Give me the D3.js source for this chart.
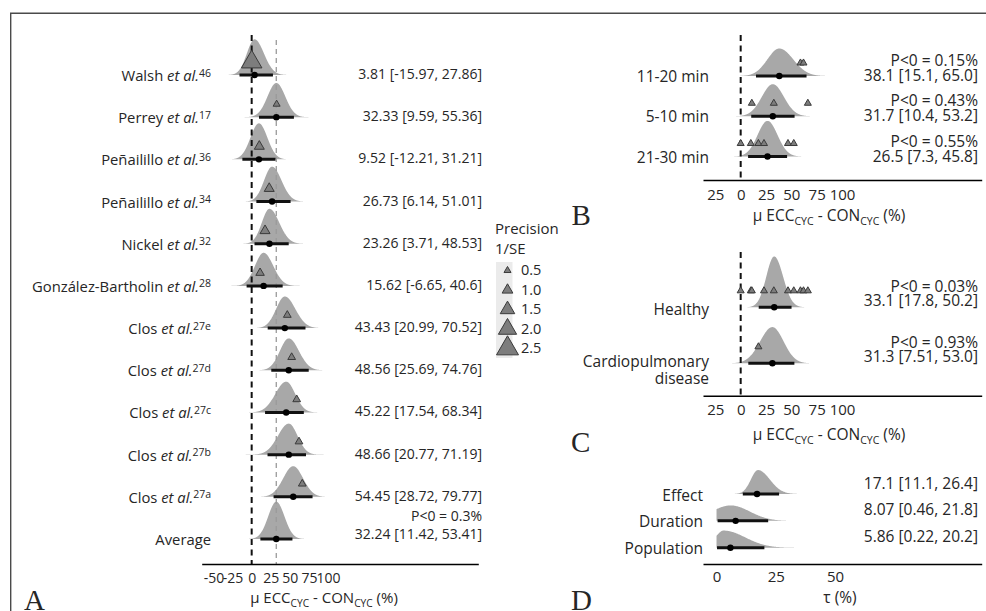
<!DOCTYPE html>
<html><head><meta charset="utf-8">
<script src="https://cdn.jsdelivr.net/npm/d3@7"></script>
<style>
body{margin:0;background:#fff}
text{font-family:"Open Sans",sans-serif;fill:#262626}
</style>
</head><body>
<svg id="c" width="986" height="611"></svg>
<script>
// ---------------- DATA ----------------
// Panel A: individual studies
const studyNames = ["Walsh","Perrey","Peñailillo","Peñailillo","Nickel","González-Bartholin","Clos","Clos","Clos","Clos","Clos","Average"];
const studyRefs = ["46","17","36","34","32","28","27e","27d","27c","27b","27a",""];
const studyMean = [3.81,32.33,9.52,26.73,23.26,15.62,43.43,48.56,45.22,48.66,54.45,32.24];
const studyLow  = [-15.97,9.59,-12.21,6.14,3.71,-6.65,20.99,25.69,17.54,20.77,28.72,11.42];
const studyHigh = [27.86,55.36,31.21,51.01,48.53,40.6,70.52,74.76,68.34,71.19,79.77,53.41];
const studyObserved  = [0,32.7,10,23,17.5,11,46.7,52.4,59,62,66.3,null];
const studyPrecision = [2.3,0.5,0.9,0.9,0.9,0.7,0.6,0.6,0.6,0.6,0.6,null];
const averagePBelow0 = "0.3%";
const ticksA = [-50,-25,0,25,50,75,100];
const precisionLegend = [0.5,1.0,1.5,2.0,2.5];

// Panel B: duration
const durationGroups = ["11-20 min","5-10 min","21-30 min"];
const durationMean = [38.1,31.7,26.5];
const durationLow  = [15.1,10.4,7.3];
const durationHigh = [65.0,53.2,45.8];
const durationCI = ["38.1 [15.1, 65.0]","31.7 [10.4, 53.2]","26.5 [7.3, 45.8]"];
const durationP = ["0.15%","0.43%","0.55%"];
const durationObserved = [[59,62],[11,32.7,66.3],[0,10,17.5,23,46.7,52.4]];

// Panel C: population
const populationGroups = [["Healthy"],["Cardiopulmonary","disease"]];
const populationMean = [33.1,31.3];
const populationLow  = [17.8,7.51];
const populationHigh = [50.2,53.0];
const populationCI = ["33.1 [17.8, 50.2]","31.3 [7.51, 53.0]"];
const populationP = ["0.03%","0.93%"];
const populationObserved = [[0,10,11,23,32.7,46.7,52.4,59,62,66.3],[17.5]];
const ticksBC = [-25,0,25,50,75,100];
const tickLabelsBC = ["25","0","25","50","75","100"];

// Panel D: heterogeneity tau
const tauNames = ["Effect","Duration","Population"];
const tauMean = [17.1,8.07,5.86];
const tauLow  = [11.1,0.46,0.22];
const tauHigh = [26.4,21.8,20.2];
const tauCI = ["17.1 [11.1, 26.4]","8.07 [0.46, 21.8]","5.86 [0.22, 20.2]"];
const tauSlabMode = [17.5,6,3];
const tauSlabSpreadL = [3,8,3.5];
const tauSlabSpreadR = [5,8,9];
const ticksD = [0,25,50];

// ---------------- DRAW ----------------
const svg = d3.select("#c");
const SLAB = "#a8a8a8", TRI_FILL = "#7d7d7d", TRI_STROKE = "#3a3a3a";

function slab(g, x, y0, mode, sdL, sdR, lower, areaK){
  const step = 0.2;
  let a = mode - 4*sdL, b = mode + 4*sdR;
  if (lower != null) a = Math.max(a, lower);
  const pts = d3.range(a, b + step/2, step).map(v => [v, Math.exp(-0.5*Math.pow((v-mode)/(v<mode?sdL:sdR),2))]);
  const area = d3.sum(pts, p => p[1]) * step;
  const h = areaK / area;
  g.append("path")
    .attr("d", d3.area().x(p => x(p[0])).y0(y0).y1(p => y0 - p[1]*h).curve(d3.curveBasis)(pts))
    .attr("fill", SLAB);
}
function interval(g, x, y0, lo, hi, m){
  g.append("line").attr("x1", x(lo)).attr("x2", x(hi)).attr("y1", y0).attr("y2", y0)
    .attr("stroke", "#111").attr("stroke-width", 3);
  g.append("circle").attr("cx", x(m)).attr("cy", y0).attr("r", 3.2).attr("fill", "#000");
}
function tri(g, cx, cy, w){
  g.append("path").attr("d", d3.symbol(d3.symbolTriangle, w*w*Math.sqrt(3)/4)())
    .attr("transform", `translate(${cx},${cy})`)
    .attr("fill", TRI_FILL).attr("stroke", TRI_STROKE).attr("stroke-width", 1);
}
function dashed(g, xv, y1, y2, color, width, dash){
  g.append("line").attr("x1", xv).attr("x2", xv).attr("y1", y1).attr("y2", y2)
    .attr("stroke", color).attr("stroke-width", width).attr("stroke-dasharray", dash);
}
function axis(g, x, yPos, ticks, fmt, fs, pad){
  const ax = g.append("g").attr("transform", `translate(0,${yPos})`)
    .call(d3.axisBottom(x).tickValues(ticks).tickSize(0).tickSizeOuter(0).tickPadding(pad).tickFormat(fmt));
  ax.select(".domain").attr("stroke", "#000").attr("stroke-width", 1.6);
  ax.selectAll("text").style("font-family", '"Open Sans",sans-serif').style("font-size", fs + "px").attr("fill", "#262626");
}
function muTitle(g, cx, y, fs){
  const t = g.append("text").attr("x", cx).attr("y", y).attr("text-anchor", "middle").style("font-size", fs + "px");
  t.append("tspan").text("μ ECC");
  t.append("tspan").attr("dy", 4).style("font-size", (fs*0.68) + "px").text("CYC");
  t.append("tspan").attr("dy", -4).text(" - CON");
  t.append("tspan").attr("dy", 4).style("font-size", (fs*0.68) + "px").text("CYC");
  t.append("tspan").attr("dy", -4).text(" (%)");
}
function txt(g, x, y, s, fs, anchor){
  return g.append("text").attr("x", x).attr("y", y).attr("text-anchor", anchor || "end").style("font-size", fs + "px").text(s);
}
function letter(s, x, y){
  svg.append("text").attr("x", x).attr("y", y).style("font-family", '"Liberation Serif","Times New Roman",serif')
    .style("font-size", "29px").attr("fill", "#111").text(s);
}

// frame
svg.append("path").attr("d", "M10.7,611 V13.3 H986").attr("fill", "none").attr("stroke", "#4a4a4a").attr("stroke-width", 1.4);

// ---------- Panel A ----------
const gA = svg.append("g");
const xA = d3.scaleLinear().domain([-65.5, 297]).range([201.7, 478.3]);
const yA = d3.scalePoint().domain(d3.range(studyNames.length)).range([75, 539]);
const sizeA = d3.scaleLinear().domain([0.5, 2.5]).range([7, 22]);
const areaA = 1000;

studyNames.forEach((n, i) => {
  const m = studyMean[i], lo = studyLow[i], hi = studyHigh[i];
  slab(gA, xA, yA(i), m, (m-lo)/1.96, (hi-m)/1.96, null, areaA);
});
dashed(gA, xA(0), 35, 564, "#111", 2, "6,4.5");
dashed(gA, xA(studyMean[studyMean.length-1]), 40, 564, "#9a9a9a", 1.3, "5,4");
studyNames.forEach((n, i) => {
  interval(gA, xA, yA(i), studyLow[i], studyHigh[i], studyMean[i]);
  if (studyObserved[i] != null) tri(gA, xA(studyObserved[i]), yA(i) - 13, sizeA(studyPrecision[i]));
  const t = gA.append("text").attr("x", 211).attr("y", yA(i) + 6).attr("text-anchor", "end").style("font-size", "14.8px");
  if (studyRefs[i]) {
    t.append("tspan").text(n + " ");
    t.append("tspan").style("font-style", "italic").text("et al.");
    t.append("tspan").attr("dy", -4.5).style("font-size", "10.5px").text(studyRefs[i]);
  } else t.text(n);
  const s = `${studyMean[i]} [${studyLow[i]}, ${studyHigh[i]}]`;
  if (studyRefs[i]) txt(gA, 482, yA(i) + 4, s, 14);
  else {
    txt(gA, 482, yA(i), s, 14);
    txt(gA, 482, yA(i) - 18.5, "P<0 = " + averagePBelow0, 14);
  }
});
axis(gA, xA, 564, ticksA, d => String(d), 14, 9);
muTitle(gA, 324, 602.5, 15);

// legend
const gL = svg.append("g");
txt(gL, 495, 234, "Precision", 15, "start");
txt(gL, 495, 254, "1/SE", 15, "start");
const legY = d3.scalePoint().domain(d3.range(precisionLegend.length)).range([269.5, 347.5]);
gL.append("rect").attr("x", 496).attr("y", 262).attr("width", 16.5).attr("height", 96).attr("fill", "#ebebeb");
precisionLegend.forEach((p, i) => {
  tri(gL, 507.5, legY(i) + 1, sizeA(p));
  txt(gL, 521, legY(i) + 5.5, d3.format(".1f")(p), 14.5, "start");
});

// ---------- Panel B ----------
const gB = svg.append("g");
const xB = d3.scaleLinear().domain([-37.2, 237.9]).range([703, 981.7]);
const yB = d3.scalePoint().domain(d3.range(durationGroups.length)).range([76, 156.5]);
const areaBC = 877;
durationGroups.forEach((n, i) => {
  const m = durationMean[i];
  slab(gB, xB, yB(i), m, (m-durationLow[i])/1.96, (durationHigh[i]-m)/1.96, null, areaBC);
});
dashed(gB, xB(0), 35, 180, "#111", 2, "6,4.5");
durationGroups.forEach((n, i) => {
  interval(gB, xB, yB(i), durationLow[i], durationHigh[i], durationMean[i]);
  durationObserved[i].forEach(v => tri(gB, xB(v), yB(i) - 13, 7));
  txt(gB, 709, yB(i) + 6, n, 15.5);
  txt(gB, 978, yB(i) - 10, "P<0 = " + durationP[i], 15.5);
  txt(gB, 978, yB(i) + 5, durationCI[i], 15.5);
});
axis(gB, xB, 180, ticksBC, (d, i) => tickLabelsBC[i], 15, 9);
muTitle(gB, 829, 221, 15.5);

// ---------- Panel C ----------
const gC = svg.append("g");
const yC = d3.scalePoint().domain(d3.range(populationGroups.length)).range([307.3, 363.3]);
const areaC = 1053;
populationGroups.forEach((n, i) => {
  const m = populationMean[i];
  slab(gC, xB, yC(i), m, (m-populationLow[i])/1.96, (populationHigh[i]-m)/1.96, null, areaC);
});
dashed(gC, xB(0), 252, 395.7, "#111", 2, "6,4.5");
populationGroups.forEach((n, i) => {
  interval(gC, xB, yC(i), populationLow[i], populationHigh[i], populationMean[i]);
  populationObserved[i].forEach(v => tri(gC, xB(v), yC(i) - 16.5, 7));
  if (n.length === 1) txt(gC, 709, yC(i) + 8, n[0], 15.5);
  else { txt(gC, 709, yC(i) + 4, n[0], 15.5); txt(gC, 709, yC(i) + 20.5, n[1], 15.5); }
  txt(gC, 978, yC(i) - 15, "P<0 = " + populationP[i], 15.5);
  txt(gC, 978, yC(i) - 1, populationCI[i], 15.5);
});
axis(gC, xB, 395.7, ticksBC, (d, i) => tickLabelsBC[i], 15, 9);
muTitle(gC, 829, 440, 15.5);

// ---------- Panel D ----------
const gD = svg.append("g");
const xD = d3.scaleLinear().domain([-5.7, 111.9]).range([703, 981.7]);
const yD = d3.scalePoint().domain(d3.range(tauNames.length)).range([494, 547.7]);
const areaD = 240;
tauNames.forEach((n, i) => {
  slab(gD, xD, yD(i), tauSlabMode[i], tauSlabSpreadL[i], tauSlabSpreadR[i], 0, areaD);
});
tauNames.forEach((n, i) => {
  interval(gD, xD, yD(i), tauLow[i], tauHigh[i], tauMean[i]);
  txt(gD, 703, yD(i) + 6.5, n, 15.5);
  txt(gD, 978, yD(i) - 5.5, tauCI[i], 15.5);
});
axis(gD, xD, 564, ticksD, d => String(d), 15, 7.5);
txt(gD, 840, 603, "τ (%)", 15.5, "middle");

// panel letters
letter("A", 24, 610);
letter("B", 571.5, 225);
letter("C", 571, 452);
letter("D", 571, 610);
</script>
</body></html>
